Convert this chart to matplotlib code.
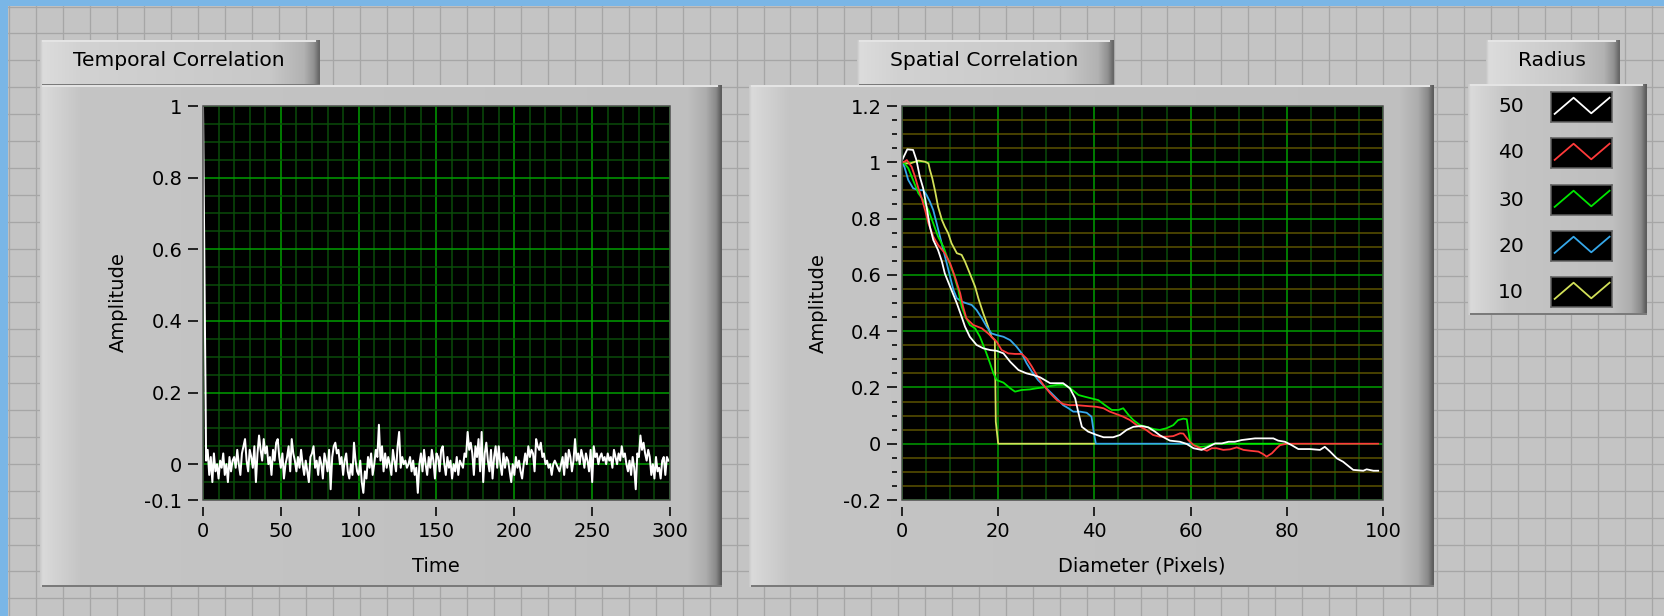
import numpy as np
import matplotlib
matplotlib.use("Agg")
import matplotlib.pyplot as plt
from matplotlib.patches import Rectangle
from matplotlib.ticker import MultipleLocator
from matplotlib.colors import to_rgb

# ---------------- data ----------------
time_values = [
    1.0, 0.5,
    0.01, 0.04, -0.03, 0.02, -0.05, 0.03, -0.02, 0.00, -0.04, 0.01, -0.01, 0.03, -0.03, 0.00, -0.05, 0.02, -0.02, 0.01,
    0.02, -0.01, 0.04, 0.00, -0.03, 0.03, 0.05, 0.07, 0.01, -0.02, 0.04, 0.02, -0.01, 0.05, -0.05, 0.03, 0.08, 0.04, 0.01, 0.07,
    0.03, 0.05, 0.00, 0.02, -0.03, 0.04, 0.01, 0.06, 0.07, 0.02, -0.01, 0.03, -0.04, 0.00, 0.02, 0.05, -0.02, 0.07, 0.03, 0.01,
    -0.02, 0.02, -0.01, 0.04, 0.00, -0.03, 0.01, -0.02, -0.05, 0.02, 0.03, 0.05, -0.01, 0.01, -0.03, 0.02, 0.00, -0.04, 0.03, 0.01,
    -0.02, 0.04, -0.07, 0.02, 0.05, 0.06, 0.03, 0.04, 0.00, 0.02, -0.03, 0.01, 0.03, -0.02, -0.04, 0.00, -0.03, 0.06, 0.01, -0.02,
    -0.03, 0.01, -0.05, -0.08, -0.02, -0.04, 0.02, -0.01, 0.03, -0.03, 0.00, 0.04, 0.02, 0.11, 0.01, 0.05, -0.02, 0.03, -0.01, 0.02,
    0.00, -0.03, 0.04, 0.01, -0.02, 0.05, 0.09, -0.01, 0.02, 0.00, 0.01, -0.01, 0.00, 0.02, -0.02, 0.01, -0.03, -0.01, -0.08, 0.00,
    0.03, -0.02, 0.04, 0.00, -0.03, 0.02, -0.01, 0.04, 0.01, -0.04, 0.03, 0.02, -0.02, 0.04, 0.05, 0.00, -0.03, 0.02, -0.01, 0.01,
    -0.04, 0.00, -0.02, 0.02, -0.03, 0.01, 0.00, -0.01, 0.03, 0.02, 0.09, 0.04, 0.06, 0.03, -0.03, 0.05, 0.02, 0.07, -0.02, 0.09,
    -0.05, 0.03, 0.06, 0.01, -0.02, 0.04, -0.04, 0.02, 0.05, -0.01, 0.05, 0.00, -0.03, 0.03, -0.01, 0.02, 0.01, -0.02, -0.05, 0.00,
    -0.03, 0.02, -0.01, 0.01, -0.02, -0.04, 0.00, 0.03, 0.00, 0.05, 0.02, 0.04, 0.03, -0.02, 0.07, 0.05, 0.04, 0.06, 0.02, 0.03,
    0.00, 0.01, -0.01, 0.00, -0.03, 0.00, 0.01, 0.00, -0.01, -0.02, 0.00, 0.02, -0.03, 0.03, -0.01, 0.04, 0.02, -0.02, 0.01, 0.07,
    0.01, 0.03, 0.00, 0.04, 0.02, -0.01, 0.03, 0.01, -0.02, 0.04, -0.05, 0.05, 0.02, 0.03, 0.00, 0.02, 0.03, 0.01, 0.02, 0.00,
    0.03, 0.01, 0.02, -0.01, 0.04, 0.02, 0.00, 0.03, 0.01, 0.05, 0.02, 0.03, 0.00, -0.02, 0.01, -0.03, 0.02, -0.01, -0.07, 0.03,
    0.02, 0.08, 0.04, 0.06, 0.03, 0.01, 0.04, 0.02, -0.03, 0.00, -0.04, 0.02, -0.02, -0.01, -0.04, 0.01, 0.02, -0.03, 0.02, 0.01,
]
time_x = np.arange(len(time_values))

time_xticks = [0, 50, 100, 150, 200, 250, 300]
time_yticks = [-0.1, 0, 0.2, 0.4, 0.6, 0.8, 1]
time_yticklabels = ["-0.1", "0", "0.2", "0.4", "0.6", "0.8", "1"]

spatial_xticks = [0, 20, 40, 60, 80, 100]
spatial_yticks = [-0.2, 0, 0.2, 0.4, 0.6, 0.8, 1, 1.2]
spatial_yticklabels = ["-0.2", "0", "0.2", "0.4", "0.6", "0.8", "1", "1.2"]

radius_labels = ["50", "40", "30", "20", "10"]
radius_colors = ["#ffffff", "#ff3a3a", "#00e600", "#36a8ea", "#d2e058"]

r50_x = [0, 1.1, 2.3, 3.0, 3.7, 4.4, 5.1, 5.8, 6.5, 7.5, 8.3, 8.9, 10.0, 11.4, 12.4, 13.1, 14.1, 15.5, 16.9, 18.3,
         19.7, 21.1, 22.5, 24.2, 25.9, 27.3, 28.7, 29.7, 30.8, 32.2, 33.5, 34.9, 36.0, 36.7, 37.4, 38.7, 40.5, 41.9, 43.9, 45.3,
         46.7, 48.1, 49.8, 51.2, 52.6, 53.6, 55.7, 57.8, 59.2, 60.6, 62.3, 63.7, 65.1, 66.5, 67.9, 69.2, 70.6, 73.4, 77.2, 78.2,
         79.6, 81.0, 82.4, 84.8, 86.9, 87.9, 89.0, 90.4, 91.7, 93.8, 95.9, 96.6, 98.0, 99.0]
r50_y = [1.007, 1.046, 1.044, 1.008, 0.949, 0.908, 0.842, 0.771, 0.724, 0.688, 0.647, 0.605, 0.558, 0.499, 0.451, 0.416, 0.380, 0.351, 0.339, 0.333,
         0.330, 0.321, 0.291, 0.262, 0.250, 0.244, 0.236, 0.226, 0.215, 0.215, 0.215, 0.197, 0.161, 0.108, 0.060, 0.043, 0.031, 0.023, 0.023, 0.031,
         0.049, 0.060, 0.063, 0.058, 0.043, 0.030, 0.011, 0.007, -0.001, -0.016, -0.022, -0.011, 0.001, 0.001, 0.007, 0.007, 0.013, 0.019, 0.019, 0.011,
         0.007, -0.005, -0.019, -0.019, -0.022, -0.011, -0.028, -0.052, -0.064, -0.093, -0.096, -0.091, -0.096, -0.096]

r40_x = [0, 0.5, 1.0, 2.0, 2.7, 3.4, 4.1, 4.8, 5.5, 6.5, 7.5, 8.9, 10.0, 11.0, 12.1, 12.7, 13.4, 14.8, 16.6, 17.9,
         19.7, 20.7, 22.1, 23.5, 24.9, 25.9, 27.0, 28.0, 29.4, 30.8, 32.2, 33.5, 34.9, 36.3, 38.4, 40.5, 41.9, 43.2, 44.6, 46.0,
         47.4, 48.8, 50.5, 52.2, 53.6, 55.0, 56.4, 57.8, 58.5, 59.5, 60.6, 62.0, 63.4, 64.4, 65.4, 66.8, 68.2, 69.6, 71.0, 72.4,
         74.1, 75.1, 75.8, 76.9, 77.9, 78.6, 80.0, 99.0]
r40_y = [1.0, 1.002, 1.008, 0.984, 0.949, 0.908, 0.872, 0.830, 0.783, 0.736, 0.706, 0.677, 0.641, 0.593, 0.534, 0.487, 0.445, 0.422, 0.410, 0.392,
         0.362, 0.333, 0.321, 0.319, 0.319, 0.303, 0.274, 0.244, 0.209, 0.179, 0.155, 0.141, 0.137, 0.137, 0.134, 0.131, 0.126, 0.114, 0.105, 0.096,
         0.084, 0.066, 0.052, 0.031, 0.025, 0.025, 0.027, 0.037, 0.036, 0.013, -0.005, -0.016, -0.025, -0.016, -0.016, -0.022, -0.020, -0.013, -0.022, -0.025,
         -0.028, -0.037, -0.046, -0.034, -0.016, -0.005, 0.0, 0.0]

r30_x = [0, 0.5, 1.3, 2.3, 3.4, 4.4, 5.5, 6.5, 7.5, 8.6, 9.6, 10.7, 11.7, 12.4, 13.2, 14.1, 15.2, 16.2, 17.3, 18.3,
         19.0, 19.7, 21.1, 22.5, 23.5, 24.9, 26.6, 28.0, 29.4, 30.8, 32.2, 33.9, 35.3, 36.7, 38.0, 39.4, 40.8, 42.2, 43.6, 45.0,
         46.0, 47.1, 48.1, 49.5, 50.9, 52.3, 53.6, 55.0, 56.4, 57.4, 58.5, 59.2, 59.5, 59.9, 60.6, 62.0, 63.4, 64.5, 80.0]
r30_y = [1.0, 0.996, 0.979, 0.937, 0.890, 0.866, 0.830, 0.783, 0.736, 0.700, 0.653, 0.605, 0.546, 0.487, 0.450, 0.422, 0.410, 0.380, 0.333, 0.286,
         0.250, 0.226, 0.217, 0.197, 0.185, 0.191, 0.193, 0.197, 0.200, 0.205, 0.209, 0.209, 0.193, 0.173, 0.167, 0.161, 0.155, 0.137, 0.120, 0.120,
         0.126, 0.102, 0.084, 0.066, 0.060, 0.052, 0.049, 0.055, 0.066, 0.084, 0.089, 0.087, 0.049, 0.007, -0.005, -0.011, -0.009, 0.0, 0.0]

r20_x = [0, 0.5, 1.3, 2.3, 3.4, 4.4, 5.1, 5.8, 6.5, 7.2, 7.9, 8.6, 9.3, 10.0, 10.7, 11.4, 12.4, 13.4, 14.5, 15.5,
         16.6, 17.6, 18.6, 19.7, 21.1, 22.5, 23.8, 24.9, 25.9, 27.0, 28.3, 29.7, 31.1, 32.5, 33.5, 34.6, 35.6, 37.0, 38.4, 39.4,
         39.9, 40.3, 60.0]
r20_y = [1.0, 0.984, 0.937, 0.908, 0.901, 0.901, 0.884, 0.860, 0.830, 0.783, 0.736, 0.688, 0.641, 0.593, 0.546, 0.517, 0.505, 0.499, 0.493, 0.475,
         0.446, 0.416, 0.392, 0.386, 0.380, 0.368, 0.345, 0.321, 0.286, 0.256, 0.226, 0.202, 0.179, 0.155, 0.137, 0.126, 0.114, 0.114, 0.110, 0.096,
         0.037, 0.0, 0.0]

r10_x = [0, 0.5, 1.7, 3.4, 4.8, 5.5, 5.8, 6.3, 6.9, 7.5, 8.3, 8.9, 9.6, 10.3, 11.4, 12.4, 13.1, 14.1, 15.2, 15.9,
         16.9, 17.9, 18.6, 19.3, 19.5, 20.0, 40.0]
r10_y = [1.0, 0.996, 0.996, 1.006, 1.002, 0.996, 0.973, 0.943, 0.896, 0.842, 0.795, 0.771, 0.748, 0.712, 0.677, 0.671, 0.647, 0.605, 0.558, 0.515,
         0.463, 0.416, 0.380, 0.368, 0.078, 0.0, 0.0]

# ---------------- layout ----------------
W, H, DPI = 1665, 616, 100
PX = 72.0 / DPI  # points per pixel
FS = 14
FS_TAB = 14.6

plt.rcParams['font.family'] = ['DejaVu Sans']
fig = plt.figure(figsize=(W / DPI, H / DPI), dpi=DPI)
fig.patch.set_facecolor('#c4c4c4')

bg = fig.add_axes([0, 0, 1, 1])
bg.set_axis_off()

# panel grid
bg.vlines(np.arange(9.5, W, 26.93), 0, H, colors='#a6a6a6', lw=1.3 * PX, zorder=1)
bg.hlines(np.arange(6.5, H, 26.9), 0, W, colors='#a6a6a6', lw=1.3 * PX, zorder=1)
bg.add_patch(Rectangle((0, 0), W, 6, color='#7ab6e6', lw=0, zorder=2))
bg.add_patch(Rectangle((0, 0), 8, H, color='#7ab6e6', lw=0, zorder=2))


def hgrad(x0, y0, x1, y1, stops, z):
    w = int(round(x1 - x0))
    xs = np.arange(w) + 0.5
    pos = [p if p >= 0 else w + p for p, _ in stops]
    cols = np.array([to_rgb(c) for _, c in stops])
    img = np.stack([np.interp(xs, pos, cols[:, k]) for k in range(3)], axis=-1)
    img = np.repeat(img[None, :, :], 2, axis=0)
    bg.imshow(img, extent=(x0, x1, y1, y0), aspect='auto', zorder=z,
              interpolation='nearest')


PANEL_STOPS = [(0, '#c8c8c8'), (3, '#dadada'), (24, '#cecece'), (40, '#c5c5c5'),
               (-34, '#bfbfbf'), (-16, '#adadad'), (-6, '#8a8a8a'), (-1, '#5c5c5c')]
TAB_STOPS = [(0, '#c4c4c4'), (3, '#dcdcdc'), (40, '#d2d2d2'), (-50, '#c8c8c8'),
             (-16, '#b2b2b2'), (-6, '#909090'), (-1, '#666666')]


def panel(x0, y0, x1, y1, stops, z):
    hgrad(x0, y0, x1, y1, stops, z)
    bg.hlines([y0 + 1], x0 + 2, x1 - 4, colors='#e4e4e4', lw=2 * PX, zorder=z + 0.1)
    bg.hlines([y1 - 1], x0 + 2, x1, colors='#7a7a7a', lw=2 * PX, zorder=z + 0.1)


# tabs
panel(40, 40, 320, 86, TAB_STOPS, 3)
panel(857, 40, 1114, 86, TAB_STOPS, 3)
panel(1486, 40, 1620, 86, TAB_STOPS, 3)
bg.text(179, 61, 'Temporal Correlation', ha='center', va='center', fontsize=FS_TAB, zorder=6)
bg.text(984, 61, 'Spatial Correlation', ha='center', va='center', fontsize=FS_TAB, zorder=6)
bg.text(1552, 61, 'Radius', ha='center', va='center', fontsize=FS_TAB, zorder=6)

# frames
panel(40, 85, 722, 587, PANEL_STOPS, 4)
panel(749, 85, 1434, 587, PANEL_STOPS, 4)
panel(1468, 84, 1647, 315, PANEL_STOPS, 4)

bg.set_xlim(0, W)
bg.set_ylim(H, 0)

# axis titles
bg.text(118, 302, 'Amplitude', rotation=90, ha='center', va='center', fontsize=FS, zorder=6)
bg.text(436, 566, 'Time', ha='center', va='center', fontsize=FS, zorder=6)
bg.text(818, 303, 'Amplitude', rotation=90, ha='center', va='center', fontsize=FS, zorder=6)
bg.text(1142, 566, 'Diameter (Pixels)', ha='center', va='center', fontsize=FS, zorder=6)


def add_ax(x0, y0, x1, y1):
    return fig.add_axes([x0 / W, 1 - y1 / H, (x1 - x0) / W, (y1 - y0) / H])


MAJOR = '#00a000'
MINOR_G = '#0a4d0a'
OLIVE = '#5e5400'


def style_axis(ax):
    ax.set_facecolor('black')
    for s in ax.spines.values():
        s.set_visible(False)
    ax.spines['left'].set_position(('outward', 4.5 * PX))
    ax.spines['bottom'].set_position(('outward', 7 * PX))
    ax.tick_params(axis='y', which='major', direction='out', length=10 * PX, width=1.6 * PX,
                   color='black', labelsize=FS, pad=6 * PX)
    ax.tick_params(axis='x', which='major', direction='out', length=9 * PX, width=1.6 * PX,
                   color='black', labelsize=FS, pad=6 * PX)
    ax.set_axisbelow(True)
    ax.add_patch(Rectangle((0, 0), 1, 1, transform=ax.transAxes, fill=False,
                           ec='#4a4a4a', lw=1.5 * PX, clip_on=False, zorder=5))


# ---- temporal correlation ----
ax1 = add_ax(203, 106, 670, 500)
style_axis(ax1)
ax1.set_xlim(0, 300)
ax1.set_ylim(-0.1, 1)
ax1.set_xticks(time_xticks)
ax1.set_yticks(time_yticks)
ax1.set_yticklabels(time_yticklabels)
ax1.xaxis.set_minor_locator(MultipleLocator(10))
ax1.yaxis.set_minor_locator(MultipleLocator(0.05))
ax1.tick_params(which='minor', length=0)
ax1.grid(which='major', color=MAJOR, lw=1.5 * PX)
ax1.grid(which='minor', color=MINOR_G, lw=1.5 * PX)
ax1.plot(time_x, time_values, color='white', lw=2.0 * PX, zorder=3)

# ---- spatial correlation ----
ax2 = add_ax(902, 106, 1383, 500)
style_axis(ax2)
ax2.set_xlim(0, 100)
ax2.set_ylim(-0.2, 1.2)
ax2.set_xticks(spatial_xticks)
ax2.set_yticks(spatial_yticks)
ax2.set_yticklabels(spatial_yticklabels)
ax2.xaxis.set_minor_locator(MultipleLocator(5))
ax2.yaxis.set_minor_locator(MultipleLocator(0.05))
ax2.tick_params(axis='x', which='minor', length=0)
ax2.tick_params(axis='y', which='minor', direction='out', length=5 * PX, width=1.6 * PX, color='black')
ax2.xaxis.grid(True, which='major', color=MAJOR, lw=1.5 * PX)
ax2.yaxis.grid(True, which='major', color=MAJOR, lw=1.5 * PX)
ax2.xaxis.grid(True, which='minor', color=MINOR_G, lw=1.5 * PX)
ax2.yaxis.grid(True, which='minor', color=OLIVE, lw=1.5 * PX)

series = [(r10_x, r10_y, radius_colors[4]), (r20_x, r20_y, radius_colors[3]),
          (r30_x, r30_y, radius_colors[2]), (r40_x, r40_y, radius_colors[1]),
          (r50_x, r50_y, radius_colors[0])]
for xs, ys, c in series:
    ax2.plot(xs, ys, color=c, lw=1.8 * PX, zorder=3)

# ---- legend ----
row_y = [107, 153, 200, 246, 292]
for lab, col, cy in zip(radius_labels, radius_colors, row_y):
    bg.text(1511, cy, lab, ha='center', va='center', fontsize=FS_TAB, zorder=6)
    sw = add_ax(1551, cy - 15, 1612, cy + 15)
    sw.set_facecolor('black')
    sw.set_xticks([])
    sw.set_yticks([])
    for s in sw.spines.values():
        s.set_color('#606060')
        s.set_linewidth(1.5 * PX)
    sw.set_xlim(0, 1)
    sw.set_ylim(0, 1)
    sw.plot([0.06, 0.37, 0.66, 0.96], [0.27, 0.81, 0.29, 0.81], color=col, lw=1.8 * PX)

fig.savefig('out.png', dpi=DPI, facecolor=fig.get_facecolor())
